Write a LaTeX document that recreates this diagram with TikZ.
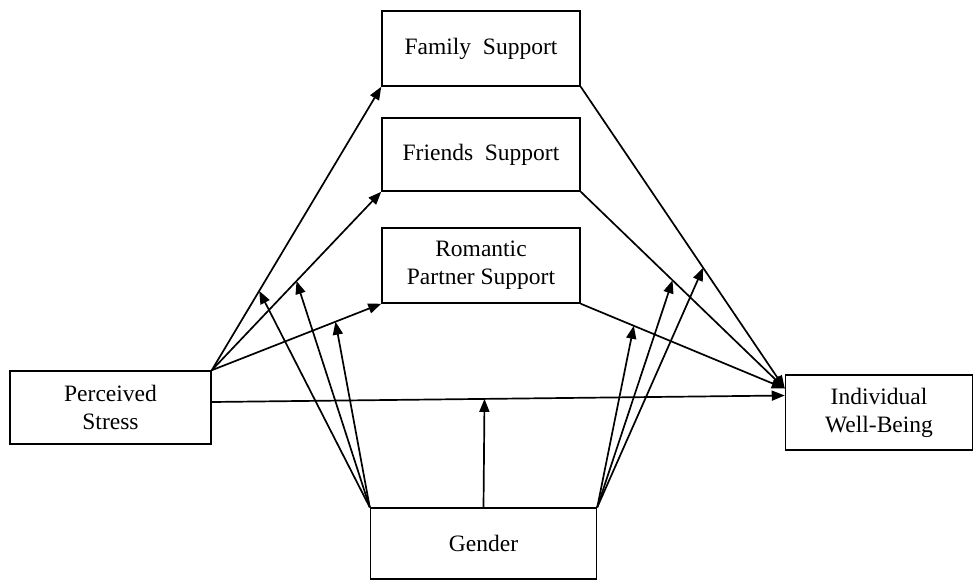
\documentclass[tikz,border=0pt]{standalone}
\usepackage{fontspec}
\setmainfont{Liberation Serif}
\usetikzlibrary{arrows.meta}
\begin{document}
\begin{tikzpicture}[x=1pt,y=-1pt,line width=1.7pt,>={Triangle[length=13pt,width=10pt]},
  box/.style={draw,line width=1.5pt,align=center,inner sep=0pt,font=\fontsize{23.5}{28}\selectfont}]
\useasboundingbox (0,0) rectangle (973,580);
\node[box,minimum width=198pt,minimum height=75pt] (fam) at (481,48.5) {Family\ \ Support};
\node[box,minimum width=198pt,minimum height=73pt] (fri) at (481,154.5) {Friends\ \ Support};
\node[box,minimum width=198pt,minimum height=75pt] (rom) at (481,265.5) {Romantic\\Partner Support};
\node[box,minimum width=201pt,minimum height=73pt] (stress) at (110.5,407.5) {Perceived\\Stress};
\node[box,minimum width=226pt,minimum height=71pt] (gender) at (483.5,543.5) {Gender};
\node[box,minimum width=187pt,minimum height=75pt] (wb) at (879,412.5) {Individual\\Well-Being};
%\coordinate (in) at ([yshift=24pt]wb.west);
\coordinate (in) at ([yshift=24pt]wb.west);
\draw[->] (stress.north east) -- (fam.south west) coordinate[pos=0.28] (m1);
\draw[->] (stress.north east) -- (fri.south west) coordinate[pos=0.5] (m2);
\draw[->] (stress.north east) -- (rom.south west) coordinate[pos=0.73] (m3);
\draw[->] ([yshift=5.5pt]stress.east) -- ([yshift=17pt]wb.west) coordinate[pos=0.476] (m4);
\draw[->] (fam.south east) -- (in) coordinate[pos=0.6] (m7);
\draw[->] (fri.south east) -- (in) coordinate[pos=0.45] (m6);
\draw[->] (rom.south east) -- (in) coordinate[pos=0.26] (m5);
\draw[->] (gender.north west) -- (m1);
\draw[->] (gender.north west) -- (m2);
\draw[->] (gender.north west) -- (m3);
\draw[->] (gender.north) -- (m4);
\draw[->] (gender.north east) -- (m5);
\draw[->] (gender.north east) -- (m6);
\draw[->] (gender.north east) -- (m7);
\end{tikzpicture}
\end{document}
